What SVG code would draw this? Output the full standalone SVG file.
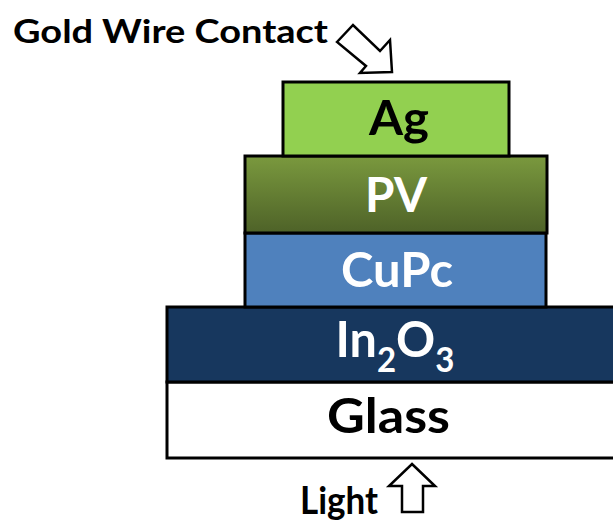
<svg xmlns="http://www.w3.org/2000/svg" width="613" height="523" viewBox="0 0 613 523">
<defs>
<linearGradient id="pvGrad" x1="0" y1="0" x2="0" y2="1">
<stop offset="0" stop-color="#7A993E"/>
<stop offset="1" stop-color="#4E6228"/>
</linearGradient>
</defs>
<style>
.layer{stroke:#000;stroke-width:3}
.lbl{font-family:Lato,"Open Sans","Liberation Sans",sans-serif;font-weight:bold;text-anchor:middle}
.big{font-size:48px}
.arrow{fill:#fff;stroke:#000;stroke-width:2.5;stroke-linejoin:miter}
</style>
<rect width="613" height="523" fill="#fff"/>
<g id="glass">
<rect class="layer" x="167" y="382" width="460" height="76" fill="#fff"/>
<text class="lbl big" x="388.5" y="433" fill="#000" textLength="123" lengthAdjust="spacingAndGlyphs">Glass</text>
</g>
<g id="in2o3">
<rect class="layer" x="167" y="307" width="460" height="75" fill="#17375E"/>
<text class="lbl" x="395" y="357" font-size="50" fill="#fff" textLength="119" lengthAdjust="spacingAndGlyphs">In<tspan font-size="34" dy="15">2</tspan><tspan dy="-15">O</tspan><tspan font-size="34" dy="15">3</tspan></text>
</g>
<g id="cupc">
<rect class="layer" x="245" y="233" width="301" height="74" fill="#4F81BD"/>
<text class="lbl big" x="397" y="287" fill="#fff" textLength="112" lengthAdjust="spacingAndGlyphs">CuPc</text>
</g>
<g id="pv">
<rect class="layer" x="245" y="156" width="302" height="77" fill="url(#pvGrad)"/>
<text class="lbl big" x="396" y="212" fill="#fff" textLength="62" lengthAdjust="spacingAndGlyphs">PV</text>
</g>
<g id="ag">
<rect class="layer" x="283" y="82" width="226" height="74" fill="#92D050"/>
<text class="lbl big" x="399" y="135" fill="#000" textLength="60" lengthAdjust="spacingAndGlyphs">Ag</text>
</g>
<g id="gold-label">
<text class="lbl" x="170.5" y="43" font-size="32" fill="#000" textLength="315" lengthAdjust="spacingAndGlyphs">Gold Wire Contact</text>
</g>
<g id="light-label">
<text class="lbl" x="339" y="514" font-size="38" fill="#000" textLength="78" lengthAdjust="spacingAndGlyphs">Light</text>
</g>
<g id="connectors">
<polygon class="arrow" points="337,42 353,25 380,51 390,40 392,72 360,73 366,66"/>
<polygon class="arrow" points="412,464 435,486 423,486 423,512 402,512 402,486 389,486"/>
</g>
</svg>
